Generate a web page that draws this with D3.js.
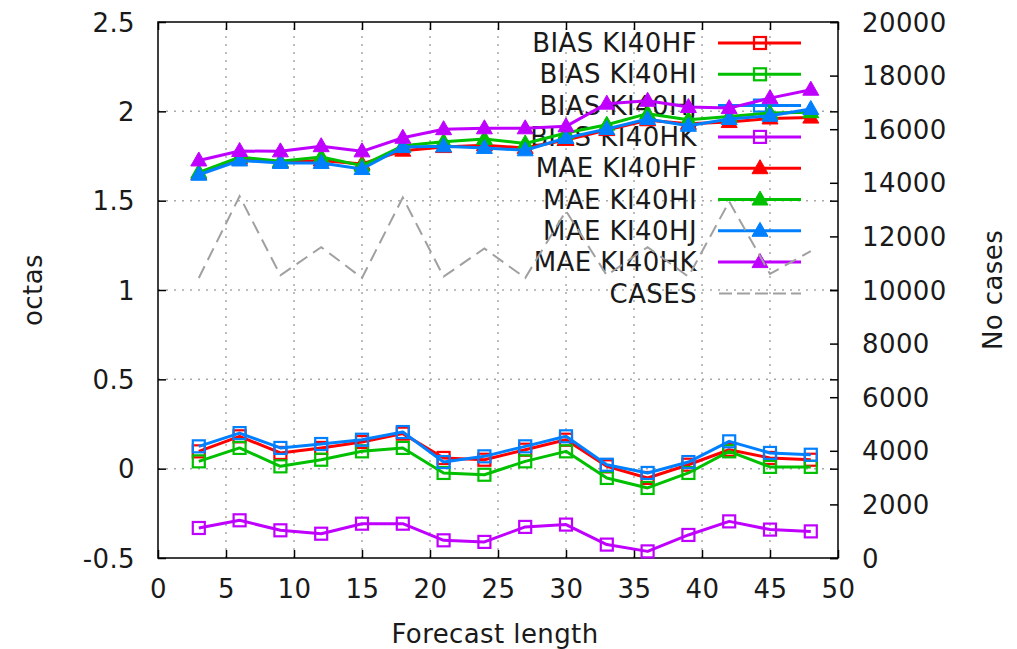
<!DOCTYPE html>
<html><head><meta charset="utf-8">
<script src="https://cdn.jsdelivr.net/npm/d3@7"></script>
<style>body{margin:0;background:#fff}svg{display:block}text{font-family:"DejaVu Sans",sans-serif;fill:#1a1a1a;letter-spacing:0.4px}</style>
</head><body>
<svg id="c" width="1017" height="649"></svg>
<script>
const hours = [3,6,9,12,15,18,21,24,27,30,33,36,39,42,45,48];
const biasHF = [0.097,0.181,0.088,0.116,0.149,0.196,0.060,0.050,0.106,0.162,0.013,-0.052,0.022,0.106,0.060,0.050];
const biasHI = [0.041,0.116,0.013,0.050,0.097,0.116,-0.024,-0.034,0.041,0.097,-0.052,-0.108,-0.024,0.097,0.010,0.010];
const biasHJ = [0.125,0.199,0.116,0.138,0.162,0.205,0.037,0.069,0.125,0.181,0.022,-0.024,0.037,0.153,0.088,0.078];
const biasHK = [-0.332,-0.289,-0.345,-0.364,-0.308,-0.308,-0.401,-0.410,-0.326,-0.313,-0.425,-0.463,-0.371,-0.295,-0.341,-0.351];
const maeHF = [1.650,1.735,1.715,1.725,1.705,1.780,1.800,1.810,1.795,1.840,1.895,1.950,1.930,1.940,1.960,1.965];
const maeHI = [1.658,1.744,1.720,1.744,1.696,1.807,1.830,1.845,1.820,1.879,1.925,1.987,1.953,1.971,1.990,1.995];
const maeHJ = [1.645,1.725,1.711,1.711,1.677,1.800,1.804,1.795,1.782,1.851,1.901,1.957,1.919,1.957,1.975,2.013];
const maeHK = [1.725,1.778,1.776,1.805,1.776,1.852,1.900,1.905,1.905,1.916,2.043,2.059,2.024,2.018,2.074,2.121];
const cases = [10450,13500,10550,11600,10450,13450,10500,11550,10450,12950,10550,11600,10500,13300,10600,11450];

const seriesNames = ["BIAS KI40HF","BIAS KI40HI","BIAS KI40HJ","BIAS KI40HK","MAE KI40HF","MAE KI40HI","MAE KI40HJ","MAE KI40HK"];
const seriesColors = ["#ff0000","#00c000","#0080ff","#c000ff","#ff0000","#00c000","#0080ff","#c000ff"];
const seriesMarkers = ["square","square","square","square","triangle","triangle","triangle","triangle"];
const seriesData = [biasHF,biasHI,biasHJ,biasHK,maeHF,maeHI,maeHJ,maeHK];
const xTicks = [0,5,10,15,20,25,30,35,40,45,50];
const yTicks = [-0.5,0,0.5,1,1.5,2,2.5];
const y2Ticks = [0,2000,4000,6000,8000,10000,12000,14000,16000,18000,20000];

const L=158,R=838,T=22,B=558;
const svg=d3.select("#c");
const x=d3.scaleLinear().domain([0,50]).range([L,R]);
const y=d3.scaleLinear().domain([-0.5,2.5]).range([B,T]);
const y2=d3.scaleLinear().domain([0,20000]).range([B,T]);
const fs=26;

const grid=svg.append("g").attr("stroke","#a8a8a8").attr("stroke-width",1.5).attr("stroke-dasharray","2,6");
xTicks.filter(v=>v>0&&v<50).forEach(v=>grid.append("line").attr("x1",x(v)).attr("x2",x(v)).attr("y1",B).attr("y2",T));
yTicks.filter(v=>v>-0.5&&v<2.5).forEach(v=>grid.append("line").attr("x1",L).attr("x2",R).attr("y1",y(v)).attr("y2",y(v)));

function styleAxis(g){g.select(".domain").remove();g.selectAll("line").attr("stroke","#000").attr("stroke-width",1.5);g.selectAll("text").attr("font-size",fs).attr("font-family","DejaVu Sans").attr("fill","#1a1a1a").attr("dy","0.35em");}
const gx=svg.append("g").attr("transform",`translate(0,${B})`).call(d3.axisBottom(x).tickValues(xTicks).tickFormat(d3.format("d")).tickSizeInner(-8)).call(styleAxis);
gx.selectAll("text").attr("y",31);
svg.append("g").attr("transform",`translate(0,${T})`).call(d3.axisTop(x).tickValues(xTicks).tickFormat("").tickSizeInner(-8)).call(styleAxis);
svg.append("g").attr("transform",`translate(${L},0)`).call(d3.axisLeft(y).tickValues(yTicks).tickFormat(d=>String(d)).tickSizeInner(-8).tickPadding(23)).call(styleAxis);
svg.append("g").attr("transform",`translate(${R},0)`).call(d3.axisRight(y).tickValues(yTicks).tickFormat("").tickSizeInner(-8)).call(styleAxis);
svg.append("g").attr("transform",`translate(${R},0)`).call(d3.axisRight(y2).tickValues(y2Ticks).tickFormat(d3.format("d")).tickSizeInner(-8).tickPadding(24)).call(styleAxis);

svg.append("rect").attr("x",L).attr("y",T).attr("width",R-L).attr("height",B-T).attr("fill","none").attr("stroke","#000").attr("stroke-width",1.5);

svg.append("text").attr("transform","translate(33,290) rotate(-90)").attr("dy","0.35em").attr("text-anchor","middle").attr("font-size",fs).text("octas");
svg.append("text").attr("transform","translate(993,290) rotate(-90)").attr("dy","0.35em").attr("text-anchor","middle").attr("font-size",fs).text("No cases");
svg.append("text").attr("x",495).attr("y",634).attr("dy","0.35em").attr("text-anchor","middle").attr("font-size",fs).text("Forecast length");

function drawMarker(g,type,cx,cy,color){
  if(type==="square"){
    g.append("rect").attr("x",cx-6).attr("y",cy-6).attr("width",12).attr("height",12).attr("fill","none").attr("stroke",color).attr("stroke-width",2.2);
  } else {
    g.append("path").attr("d",`M${cx},${cy-8.5}L${cx+8},${cy+5.5}L${cx-8},${cy+5.5}Z`).attr("fill",color).attr("stroke",color).attr("stroke-width",1);
  }
}

const lg=svg.append("g");
const legY0=43, legDy=31.3;
seriesNames.concat(["CASES"]).forEach((n,i)=>{
  const yy=legY0+i*legDy;
  lg.append("text").attr("x",697).attr("y",yy).attr("dy","0.35em").attr("text-anchor","end").attr("font-size",fs).text(n);
  if(i<8){
    lg.append("line").attr("x1",718).attr("x2",801).attr("y1",yy).attr("y2",yy).attr("stroke",seriesColors[i]).attr("stroke-width",3);
    drawMarker(lg,seriesMarkers[i],760,yy,seriesColors[i]);
  } else {
    lg.append("line").attr("x1",719).attr("x2",801).attr("y1",yy).attr("y2",yy).attr("stroke","#a0a0a0").attr("stroke-width",2).attr("stroke-dasharray","13,5");
  }
});

const line2=d3.line().x((d,i)=>x(hours[i])).y(d=>y2(d));
svg.append("path").datum(cases).attr("d",line2).attr("fill","none").attr("stroke","#a0a0a0").attr("stroke-width",2).attr("stroke-dasharray","13,7");

const line=d3.line().x((d,i)=>x(hours[i])).y(d=>y(d));
seriesData.forEach((arr,k)=>{
  const g=svg.append("g");
  g.append("path").datum(arr).attr("d",line).attr("fill","none").attr("stroke",seriesColors[k]).attr("stroke-width",3).attr("stroke-linejoin","round");
  arr.forEach((v,i)=>drawMarker(g,seriesMarkers[k],x(hours[i]),y(v),seriesColors[k]));
});
</script>
</body></html>
